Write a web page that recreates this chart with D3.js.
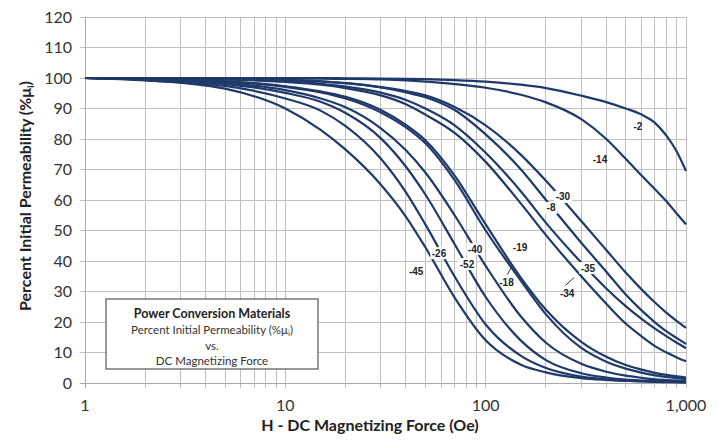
<!DOCTYPE html>
<html><head><meta charset="utf-8">
<script src="https://cdn.jsdelivr.net/npm/d3@7"></script>
<style>body{margin:0;background:#fff}svg{display:block}</style>
</head><body>
<svg id="chart" width="721" height="441"></svg>
<script>
// H (Oe) sample points shared by every curve
const hValues = [1, 2, 5, 10, 15, 20, 30, 40, 50, 70, 100, 150, 200, 300, 400, 500, 600, 700, 800, 900, 1000];
// Percent initial permeability for each material mix
const mix2  = [100, 100, 100, 100, 100, 99.9, 99.8, 99.7, 99.6, 99.3, 98.8, 97.8, 96.7, 94.2, 92.1, 90, 88, 85.3, 81, 75.8, 69.5];
const mix14 = [100, 100, 100, 99.9, 99.8, 99.7, 99.5, 99.2, 98.8, 98, 96.8, 94.5, 92, 86.5, 80, 73.5, 68, 63.5, 59.5, 55.5, 52];
const mix30 = [100, 99.9, 99.7, 99.4, 98.9, 98.3, 97, 95.7, 94.3, 90.5, 84.5, 74.8, 66.3, 53.1, 43.6, 36.2, 30.7, 26.4, 23, 20.3, 18.1];
const mix8  = [100, 99.9, 99.7, 99.4, 98.9, 98.3, 96.9, 95.3, 93.7, 89.5, 81.5, 70, 60, 46, 36.5, 29, 23.8, 19.9, 16.9, 14.7, 12.8];
const mix35 = [100, 99.8, 99.6, 98.9, 98.1, 97.2, 95.2, 92.8, 90, 84.5, 75.5, 62.8, 52.5, 39.5, 31, 25.2, 21, 17.8, 15.3, 13.2, 11.4];
const mix34 = [100, 99.8, 99.5, 98.7, 97.8, 96.7, 94.3, 91.4, 88, 82, 72.5, 58.8, 48.5, 35, 26, 19.5, 15.3, 12.1, 10, 8.4, 7.1];
const mix19 = [100, 99.6, 98.9, 97.3, 95.6, 93.8, 89.5, 84.6, 79.6, 68, 52, 34.5, 24, 13.5, 8.6, 5.9, 4.4, 3.3, 2.65, 2.2, 1.8];
const mix18 = [100, 99.6, 98.9, 97.1, 95.3, 93.3, 88.7, 83.8, 78.6, 66.5, 50, 33.5, 22.5, 11.5, 7, 4.7, 3.4, 2.5, 2, 1.6, 1.3];
const mix40 = [100, 99.5, 98.4, 96, 93.3, 90.4, 83.5, 76.3, 69, 55, 38.4, 21.8, 13.2, 6.3, 3.7, 2.4, 1.7, 1.2, 0.95, 0.75, 0.6];
const mix52 = [100, 99.5, 98.1, 95.1, 92.2, 88.5, 80.2, 70.9, 61.8, 45.5, 28.2, 13.9, 7.5, 3.2, 1.8, 1.1, 0.8, 0.6, 0.45, 0.4, 0.3];
const mix26 = [100, 99.2, 97.4, 93.3, 89.3, 84.2, 73.5, 62.5, 52, 34.9, 19.2, 8.9, 4.9, 2.1, 1.2, 0.8, 0.6, 0.45, 0.35, 0.3, 0.25];
const mix45 = [100, 99.3, 96.5, 90, 83, 76.5, 65, 54.5, 44.5, 28, 14, 6, 3.5, 1.6, 1, 0.7, 0.5, 0.4, 0.3, 0.25, 0.2];

const seriesNames  = ["-2", "-14", "-30", "-8", "-35", "-34", "-19", "-18", "-40", "-52", "-26", "-45"];
const seriesValues = [mix2, mix14, mix30, mix8, mix35, mix34, mix19, mix18, mix40, mix52, mix26, mix45];

// Curve label anchors, in data units (H, %)
const labelH = [575, 372, 243, 212, 324, 255, 148.5, 127, 88.5, 80.7, 58.5, 45];
const labelV = [84.2, 73.4, 61, 57.4, 37.7, 29.5, 44.3, 33, 43.9, 39, 42.6, 36.4];
const labelOnCurve = [false, false, true, true, true, false, false, false, true, true, true, false];
// leader lines (from, to) in data units for -34 and -18
const leaderNames = ["-34", "-18"];
const leaderFromH = [250, 128];  const leaderFromV = [32, 35.5];
const leaderToH   = [276, 136];  const leaderToV   = [34.5, 38.5];

const yTicks = [0, 10, 20, 30, 40, 50, 60, 70, 80, 90, 100, 110, 120];
const xTickValues = [1, 10, 100, 1000];
const xTickLabels = ["1", "10", "100", "1,000"];

const svg = d3.select("#chart");
const pL = 85, pR = 686, pT = 17, pB = 383;
const x = d3.scaleLog().domain([1, 1000]).range([pL, pR]);
const y = d3.scaleLinear().domain([0, 120]).range([pB, pT]);

const gridColor = "#bfbfbf";
const gridX = x.ticks();
svg.append("g").selectAll("line").data(gridX).join("line")
  .attr("x1", d => x(d)).attr("x2", d => x(d))
  .attr("y1", pT).attr("y2", pB + 5)
  .attr("stroke", gridColor).attr("stroke-width", 1).attr("shape-rendering", "crispEdges");
svg.append("g").selectAll("line").data(yTicks).join("line")
  .attr("x1", pL - 5).attr("x2", pR)
  .attr("y1", d => y(d)).attr("y2", d => y(d))
  .attr("stroke", gridColor).attr("stroke-width", 1).attr("shape-rendering", "crispEdges");
svg.append("line").attr("x1", pL).attr("x2", pL).attr("y1", pT).attr("y2", pB + 5)
  .attr("stroke", "#a8a8a8").attr("shape-rendering", "crispEdges");
svg.append("line").attr("x1", pL - 5).attr("x2", pR).attr("y1", pB).attr("y2", pB)
  .attr("stroke", "#a8a8a8").attr("shape-rendering", "crispEdges");

const fontFam = "Lato, 'Open Sans', sans-serif";
svg.append("g").selectAll("text").data(yTicks).join("text")
  .attr("x", pL - 13).attr("y", d => y(d) + 5.5)
  .attr("text-anchor", "end").attr("font-family", fontFam).attr("font-size", 16)
  .attr("fill", "#333").text(d => d);
svg.append("g").selectAll("text").data(xTickValues).join("text")
  .attr("x", d => x(d)).attr("y", 411)
  .attr("text-anchor", "middle").attr("font-family", fontFam).attr("font-size", 16)
  .attr("fill", "#333").text((d, i) => xTickLabels[i]);

svg.append("text").attr("x", 370).attr("y", 431).attr("text-anchor", "middle")
  .attr("font-family", fontFam).attr("font-size", 16).attr("font-weight", "bold")
  .attr("fill", "#222").text("H - DC Magnetizing Force (Oe)");
const yt = svg.append("text").attr("transform", "translate(31,196) rotate(-90)")
  .attr("text-anchor", "middle").attr("font-family", fontFam).attr("font-size", 16)
  .attr("font-weight", "bold").attr("fill", "#222");
yt.append("tspan").text("Percent Initial Permeability (%\u03bc");
yt.append("tspan").attr("font-size", 10).attr("dy", 3).text("i");
yt.append("tspan").attr("dy", -3).text(")");

const line = d3.line().x(d => x(d[0])).y(d => y(d[1])).curve(d3.curveMonotoneX);
svg.append("g").selectAll("path").data(seriesValues).join("path")
  .attr("d", vals => line(hValues.map((h, i) => [h, vals[i]])))
  .attr("fill", "none").attr("stroke", "#1f3a6a").attr("stroke-width", 2.2);

leaderNames.forEach((n, i) => {
  svg.append("line")
    .attr("x1", x(leaderFromH[i])).attr("y1", y(leaderFromV[i]))
    .attr("x2", x(leaderToH[i])).attr("y2", y(leaderToV[i]))
    .attr("stroke", "#333").attr("stroke-width", 1);
});

const lab = svg.append("g");
seriesNames.forEach((n, i) => {
  const g = lab.append("g");
  const t = g.append("text").attr("x", x(labelH[i])).attr("y", y(labelV[i]) + 3.5)
    .attr("text-anchor", "middle").attr("font-family", "'Liberation Sans', Arial, sans-serif")
    .attr("font-size", 10).attr("font-weight", "bold").attr("fill", "#222").text(n);
  if (labelOnCurve[i]) {
    const bb = t.node().getBBox();
    g.insert("rect", "text").attr("x", bb.x - 1.5).attr("y", bb.y - 0.5)
      .attr("width", bb.width + 3).attr("height", bb.height + 1).attr("fill", "#fff");
  }
});

const box = svg.append("g");
box.append("rect").attr("x", 106).attr("y", 299).attr("width", 212).attr("height", 70)
  .attr("fill", "#fff").attr("stroke", "#555").attr("stroke-width", 1.2);
box.append("text").attr("x", 212).attr("y", 318).attr("text-anchor", "middle")
  .attr("font-family", fontFam).attr("font-size", 12.5).attr("font-weight", "bold")
  .attr("fill", "#222").text("Power Conversion Materials");
const l2 = box.append("text").attr("x", 212).attr("y", 334).attr("text-anchor", "middle")
  .attr("font-family", fontFam).attr("font-size", 11.5).attr("fill", "#333");
l2.append("tspan").text("Percent Initial Permeability (%\u03bc");
l2.append("tspan").attr("font-size", 8).attr("dy", 2).text("i");
l2.append("tspan").attr("dy", -2).text(")");
box.append("text").attr("x", 212).attr("y", 350).attr("text-anchor", "middle")
  .attr("font-family", fontFam).attr("font-size", 11.5).attr("fill", "#333").text("vs.");
box.append("text").attr("x", 212).attr("y", 365).attr("text-anchor", "middle")
  .attr("font-family", fontFam).attr("font-size", 11.5).attr("fill", "#333").text("DC Magnetizing Force");
</script>
</body></html>
